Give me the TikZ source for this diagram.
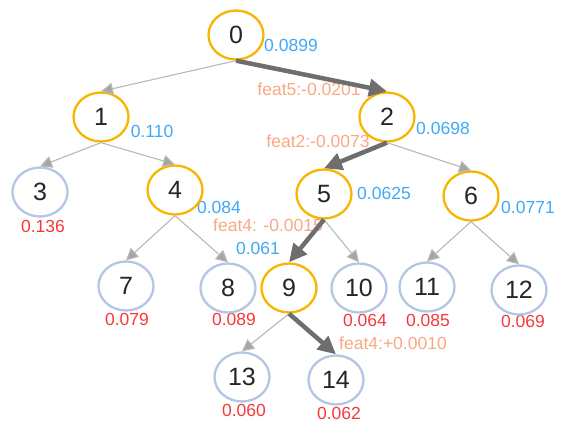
\documentclass[tikz,border=0pt]{standalone}
\usepackage{fontspec}
\setmainfont{Liberation Sans}
\usetikzlibrary{shapes.geometric,arrows.meta}
\definecolor{splitring}{HTML}{F7B500}
\definecolor{leafring}{HTML}{B4C6E4}
\definecolor{gainblue}{HTML}{3FA9F5}
\definecolor{leafred}{HTML}{F6383C}
\definecolor{featorange}{HTML}{F9A885}
\definecolor{thinedge}{HTML}{B8B8B8}
\definecolor{pathedge}{HTML}{6E6E6E}
\definecolor{digit}{HTML}{262626}
\tikzset{
  treenode/.style={ellipse, draw, line width=2.3pt, fill=white,
    minimum width=55pt, minimum height=49pt, inner sep=0pt,
    text=digit, font=\fontsize{25}{25}\selectfont},
  splitnode/.style={treenode, draw=splitring},
  leafnode/.style={treenode, draw=leafring},
  gain/.style={text=gainblue, font=\fontsize{17.5}{18}\selectfont, inner sep=0pt},
  leafval/.style={text=leafred, font=\fontsize{17.5}{18}\selectfont, inner sep=0pt},
  featlab/.style={text=featorange, font=\fontsize{17.5}{18}\selectfont, inner sep=0pt},
  thinarrow/.style={draw=thinedge, line width=1.1pt,
    -{Triangle[length=12pt,width=12pt,fill=thinedge!90!black]}},
  patharrow/.style={draw=pathedge, line width=4.5pt,
    -{Triangle[length=18pt,width=17pt]}}
}
\begin{document}
\begin{tikzpicture}[x=1pt,y=-1pt]
\useasboundingbox (0,0) rectangle (574,433);

% labels first, so connectors pass over them
\node[gain] (g0) at (291,45) {0.0899};
\node[gain] (g1) at (152,131) {0.110};
\node[gain] (g2) at (443,128) {0.0698};
\node[gain] (g4) at (219,207) {0.084};
\node[gain] (g5) at (384,193) {0.0625};
\node[gain] (g6) at (528,207) {0.0771};
\node[gain] (g9) at (258,248) {0.061};

\node[leafval] (v3) at (43,226) {0.136};
\node[leafval] (v7) at (127,319) {0.079};
\node[leafval] (v8) at (234,319) {0.089};
\node[leafval] (v10) at (365,320) {0.064};
\node[leafval] (v11) at (428,320) {0.085};
\node[leafval] (v12) at (523,321) {0.069};
\node[leafval] (v13) at (244,410) {0.060};
\node[leafval] (v14) at (339,413) {0.062};

\node[featlab] (f02) at (309,89) {feat5:-0.0201};
\node[featlab] (f25) at (318,141) {feat2:-0.0073};
\node[featlab] (f59) at (268,225) {feat4: -0.0015};
\node[featlab] (f914) at (393,343) {feat4:+0.0010};

% tree nodes
\node[splitnode] (n0) at (236,35) {0};
\node[splitnode] (n1) at (101,117) {1};
\node[splitnode] (n2) at (387,117) {2};
\node[leafnode]  (n3) at (40,192) {3};
\node[splitnode] (n4) at (175,190) {4};
\node[splitnode] (n5) at (324,194) {5};
\node[splitnode] (n6) at (471,196) {6};
\node[leafnode]  (n7) at (126,286) {7};
\node[leafnode]  (n8) at (228,288) {8};
\node[splitnode] (n9) at (289,288) {9};
\node[leafnode]  (n10) at (359,288) {10};
\node[leafnode]  (n11) at (427,287) {11};
\node[leafnode]  (n12) at (519,290) {12};
\node[leafnode]  (n13) at (242,377) {13};
\node[leafnode]  (n14) at (336,380) {14};

% ordinary branches
\draw[thinarrow] (n0.south) -- (n1.north);
\draw[thinarrow] (n1.south) -- (n3.north);
\draw[thinarrow] (n1.south) -- (n4.north);
\draw[thinarrow] (n4.south) -- (n7.north);
\draw[thinarrow] (n4.south) -- (n8.north);
\draw[thinarrow] (n2.south) -- (n6.north);
\draw[thinarrow] (n5.south) -- (n10.north);
\draw[thinarrow] (n6.south) -- (n11.north);
\draw[thinarrow] (n6.south) -- (n12.north);
\draw[thinarrow] (n9.south) -- (n13.north);

% decision path
\draw[patharrow] (n0.south) -- (n2.north);
\draw[patharrow] (n2.south) -- (n5.north);
\draw[patharrow] (n5.south) -- (n9.north);
\draw[patharrow] (n9.south) -- (n14.north);
\end{tikzpicture}
\end{document}
